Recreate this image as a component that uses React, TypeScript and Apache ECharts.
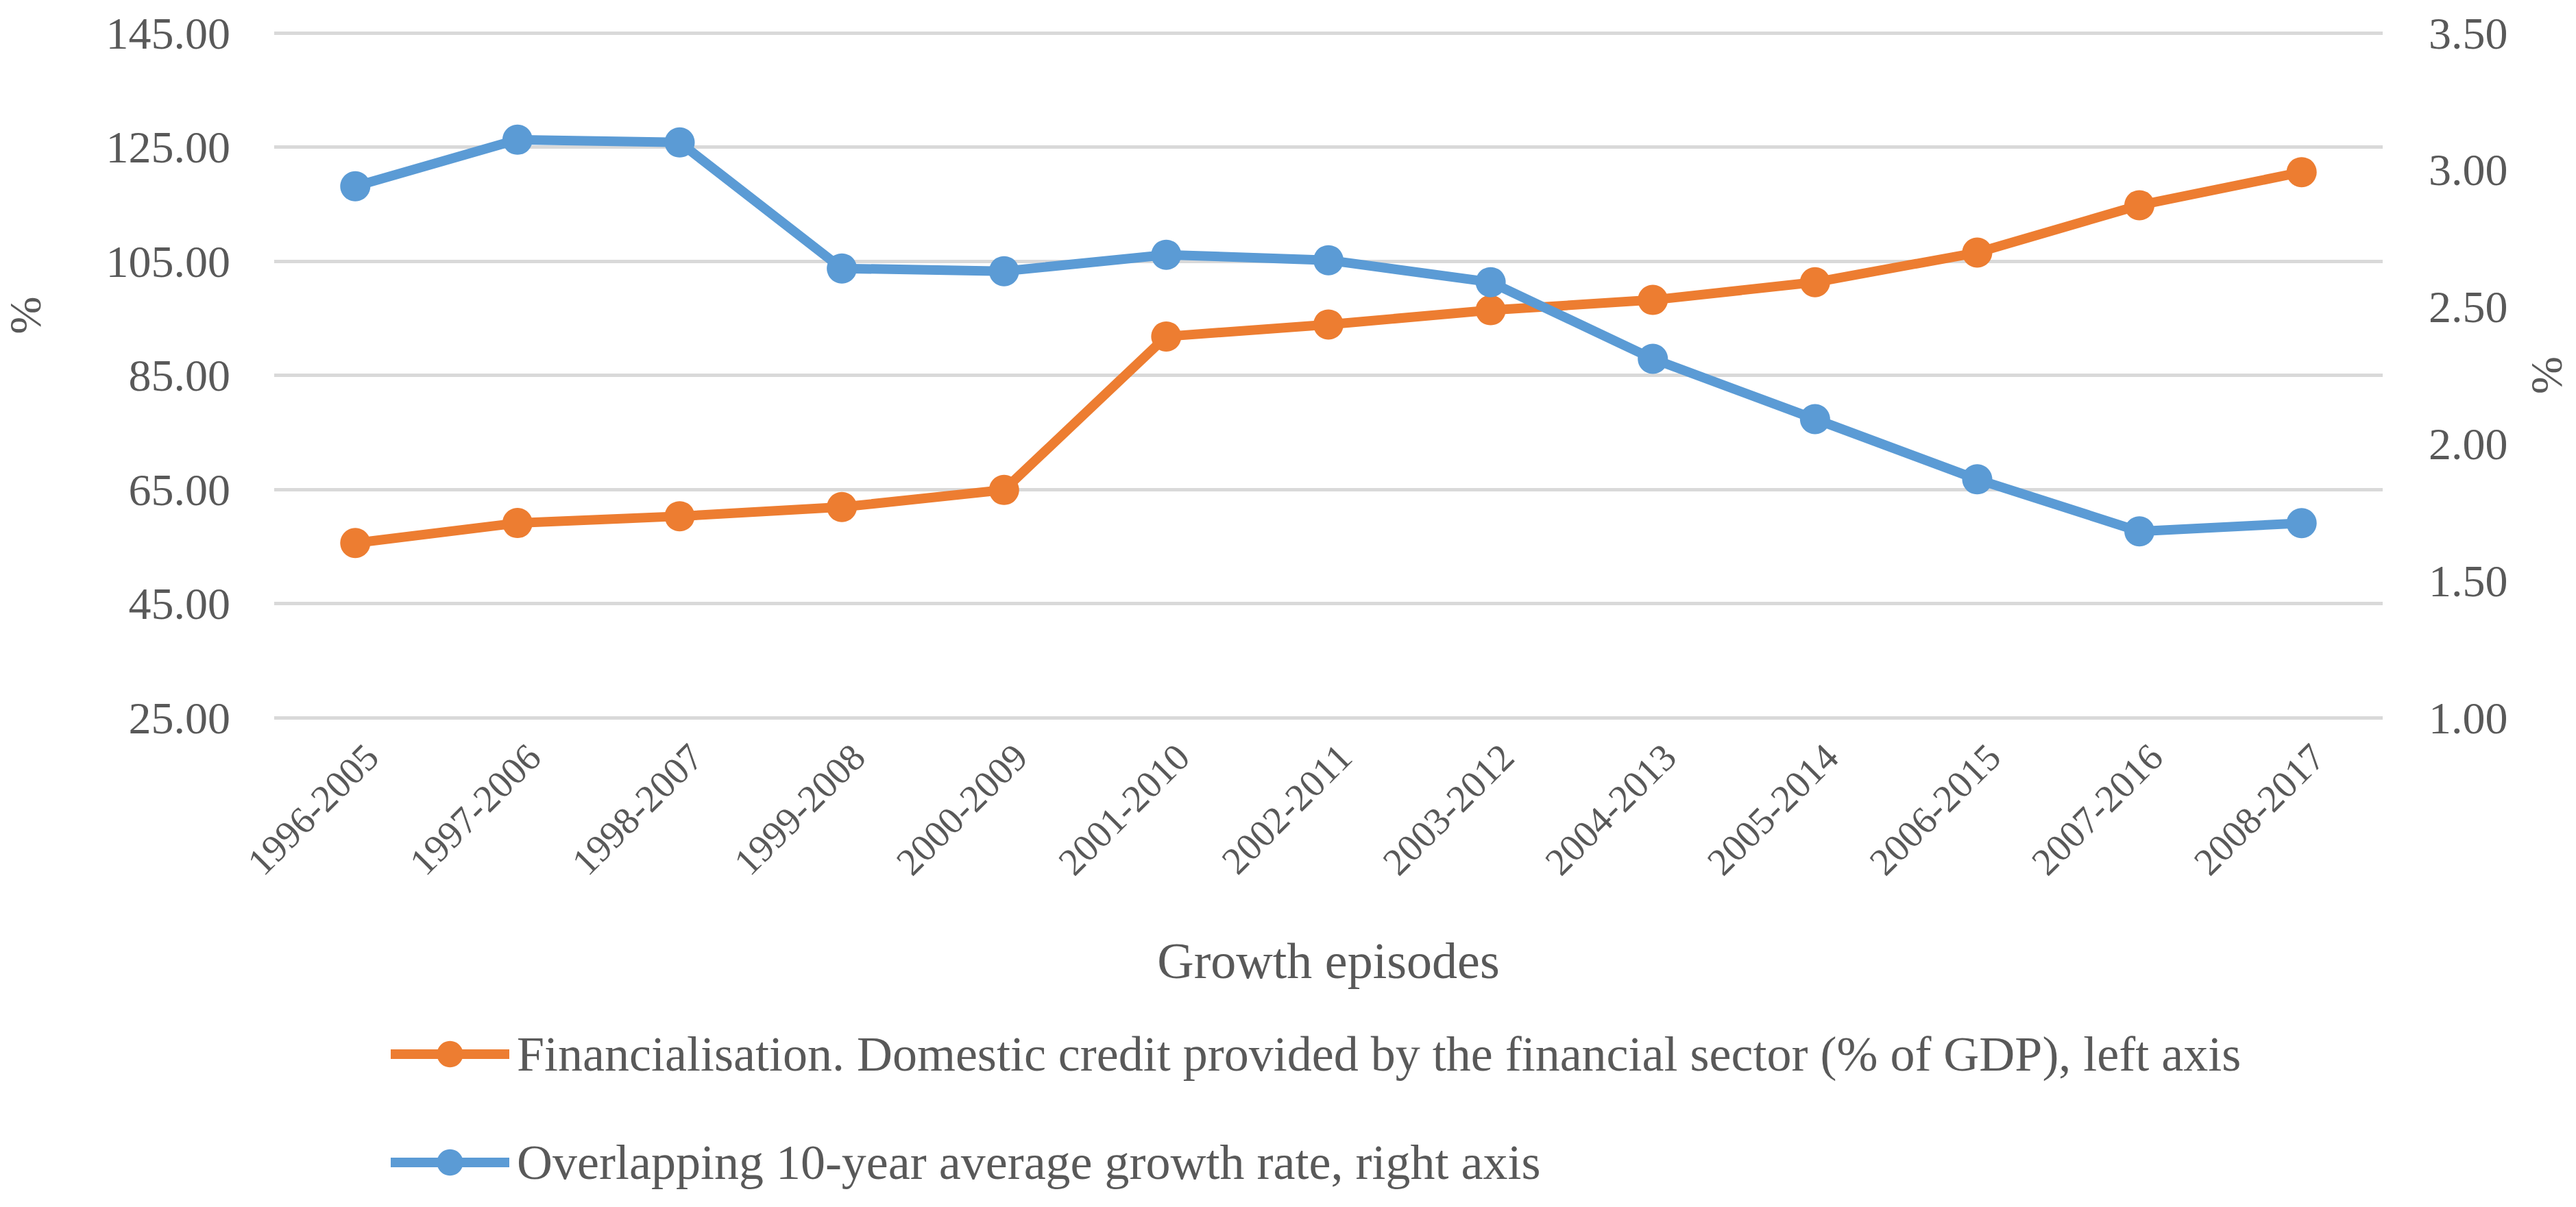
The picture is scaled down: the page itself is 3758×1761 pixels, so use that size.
import React, { useEffect, useRef } from "react";
import * as echarts from "echarts";

const categories = [
  "1996-2005", "1997-2006", "1998-2007", "1999-2008", "2000-2009", "2001-2010", "2002-2011",
  "2003-2012", "2004-2013", "2005-2014", "2006-2015", "2007-2016", "2008-2017",
];
const financialisation = [55.6, 59.1, 60.3, 61.9, 64.9, 91.8, 93.9, 96.4, 98.2, 101.3, 106.5, 114.8, 120.6];
const growthRate = [2.94, 3.11, 3.10, 2.64, 2.63, 2.69, 2.67, 2.59, 2.31, 2.09, 1.87, 1.68, 1.71];
const seriesNames = [
  "Financialisation. Domestic credit provided by the financial sector (% of GDP), left axis",
  "Overlapping 10-year average growth rate, right axis",
];
const xTitle = "Growth episodes";
const yTitle = "%";

const FONT = "'Liberation Serif', 'Times New Roman', serif";
const TEXT = "#595959";
const ORANGE = "#ED7D31";
const BLUE = "#5B9BD5";

const legendBase = {
  left: 558,
  itemWidth: 173,
  itemHeight: 48,
  itemGap: 10,
  lineStyle: { width: 14 },
  textStyle: { fontFamily: FONT, fontSize: 72, color: TEXT, padding: [0, 0, 0, 6] },
};

export default function App() {
  const ref = useRef<HTMLDivElement>(null);
  useEffect(() => {
    if (!ref.current) return;
    const chart = echarts.init(ref.current, null, { renderer: "svg" });
    chart.setOption({
      animation: false,
      backgroundColor: "#ffffff",
      textStyle: { fontFamily: FONT, color: TEXT },
      grid: { left: 400, right: 282, top: 48, bottom: 714, containLabel: false },
      legend: [
        { ...legendBase, data: [seriesNames[0]], top: 1497 },
        { ...legendBase, data: [seriesNames[1]], top: 1655 },
      ],
      xAxis: {
        type: "category",
        data: categories,
        boundaryGap: true,
        name: xTitle,
        nameLocation: "middle",
        nameGap: 318,
        nameTextStyle: { fontFamily: FONT, fontSize: 74, color: TEXT },
        axisLine: { show: false },
        axisTick: { show: false },
        axisLabel: {
          rotate: 45,
          interval: 0,
          margin: 72,
          padding: [0, -34, 0, 0],
          fontFamily: FONT,
          fontSize: 56,
          color: TEXT,
        },
        splitLine: { show: false },
      },
      yAxis: [
        {
          type: "value",
          min: 25,
          max: 145,
          interval: 20,
          axisLine: { show: false },
          axisTick: { show: false },
          axisLabel: {
            margin: 64,
            fontFamily: FONT,
            fontSize: 66,
            color: TEXT,
            formatter: (v: number) => v.toFixed(2),
          },
          splitLine: { show: true, lineStyle: { color: "#D9D9D9", width: 5 } },
        },
        {
          type: "value",
          min: 1,
          max: 3.5,
          interval: 0.5,
          position: "right",
          name: yTitle,
          nameLocation: "middle",
          nameRotate: 90,
          nameGap: 205,
          nameTextStyle: { fontFamily: FONT, fontSize: 66, color: TEXT },
          axisLine: { show: false },
          axisTick: { show: false },
          axisLabel: {
            margin: 67,
            fontFamily: FONT,
            fontSize: 66,
            color: TEXT,
            formatter: (v: number) => v.toFixed(2),
          },
          splitLine: { show: false },
        },
      ],
      graphic: [
        {
          type: "text",
          x: 36,
          y: 460,
          rotation: Math.PI / 2,
          style: {
            text: yTitle,
            fontFamily: FONT,
            fontSize: 66,
            fill: TEXT,
            align: "center",
            verticalAlign: "middle",
          },
        },
      ],
      series: [
        {
          name: seriesNames[0],
          type: "line",
          yAxisIndex: 0,
          data: financialisation,
          symbol: "circle",
          symbolSize: 44,
          lineStyle: { color: ORANGE, width: 14 },
          itemStyle: { color: ORANGE },
        },
        {
          name: seriesNames[1],
          type: "line",
          yAxisIndex: 1,
          data: growthRate,
          symbol: "circle",
          symbolSize: 44,
          lineStyle: { color: BLUE, width: 14 },
          itemStyle: { color: BLUE },
        },
      ],
    });
    return () => chart.dispose();
  }, []);
  return (
    <div
      ref={ref}
      style={{ position: "absolute", left: 0, top: 0, width: 3758, height: 1761, background: "#fff" }}
    />
  );
}
